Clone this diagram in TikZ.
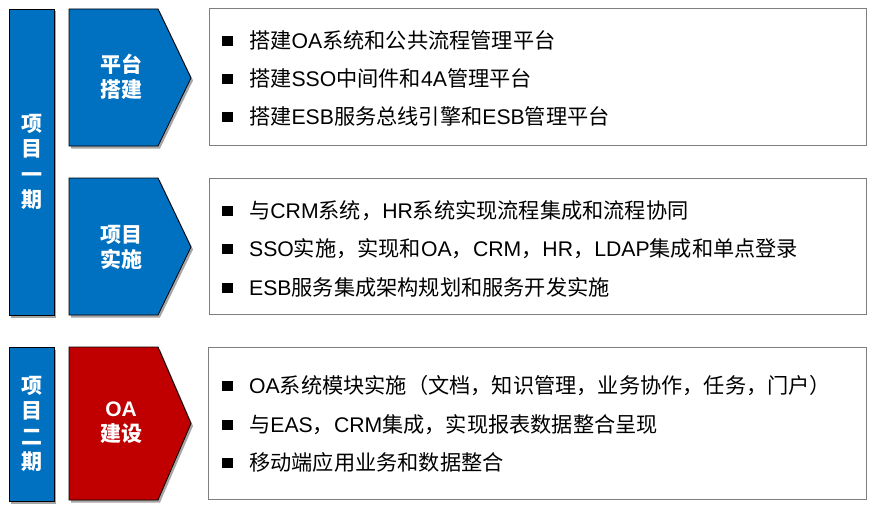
\documentclass[tikz,border=0pt]{standalone}
\usepackage{fontspec}
\setmainfont{Noto Sans CJK SC}
\newfontfamily\ltnfont{Liberation Sans}
\newcommand\ltn[1]{{\ltnfont #1}}
\usetikzlibrary{shadows}
\definecolor{pblue}{HTML}{0070C0}
\definecolor{pred}{HTML}{C00000}
\definecolor{boxgray}{HTML}{7F7F7F}
\tikzset{
  shd/.style={drop shadow={shadow xshift=2pt,shadow yshift=-2.5pt,opacity=0.35,fill=black}},
  phasebar/.style={shd,draw=black,line width=0.8pt,fill=pblue,minimum width=45pt,inner sep=0pt,
    text=white,font=\fontsize{21}{25.5}\selectfont\bfseries,align=center},
  chev/.style={shd,draw=black,line width=0.8pt},
  chevtext/.style={text=white,font=\fontsize{21}{25}\selectfont\bfseries,align=center,inner sep=0pt},
  itembox/.style={draw=boxgray,line width=1pt,fill=white},
  item/.style={anchor=base west,inner sep=0pt,font=\fontsize{21.2}{24}\selectfont}
}
\newcommand\bul{\raisebox{2.5pt}{\rule{11pt}{10pt}}\hspace{16pt}}
\begin{document}
\begin{tikzpicture}[x=1pt,y=-1pt]
\useasboundingbox (0,0) rectangle (874,508);
% left phase bars
\node[phasebar,minimum height=306pt] (p1) at (31.5,162) {项\\目\\一\\期};
\node[phasebar,minimum height=154pt] (p2) at (31.5,424) {项\\目\\二\\期};
% chevrons
\draw[chev,fill=pblue] (69,9) -- (158,9) -- (191,78) -- (158,146) -- (69,146) -- cycle;
\draw[chev,fill=pblue] (69,178) -- (158,178) -- (191,247) -- (158,315) -- (69,315) -- cycle;
\draw[chev,fill=pred] (69,347) -- (158,347) -- (191,423.5) -- (158,500) -- (69,500) -- cycle;
\node[chevtext] (c1) at (121,77) {平台\\搭建};
\node[chevtext] (c2) at (121,247) {项目\\实施};
\node[chevtext] (c3) at (121,423) {\ltn{OA}\\建设};
% item boxes
\draw[itembox] (209,9) rectangle (866,145);
\draw[itembox] (209,178) rectangle (866,314);
\draw[itembox] (208,347) rectangle (866,499);
% items
\node[item] (a1) at (222,48.5) {\bul 搭建\ltn{OA}系统和公共流程管理平台};
\node[item] (a2) at (222,86.5) {\bul 搭建\ltn{SSO}中间件和\ltn{4A}管理平台};
\node[item] (a3) at (222,124.5) {\bul 搭建\ltn{ESB}服务总线引擎和\ltn{ESB}管理平台};
\node[item] (b1) at (222,218.5) {\bul 与\ltn{CRM}系统，\ltn{HR}系统实现流程集成和流程协同};
\node[item] (b2) at (222,256.5) {\bul \ltn{SSO}实施，实现和\ltn{OA}，\ltn{CRM}，\ltn{HR}，\ltn{LDAP}集成和单点登录};
\node[item] (b3) at (222,295.5) {\bul \ltn{ESB}服务集成架构规划和服务开发实施};
\node[item] (d1) at (222,393.5) {\bul \ltn{OA}系统模块实施（文档，知识管理，业务协作，任务，门户）};
\node[item] (d2) at (222,432.5) {\bul 与\ltn{EAS}，\ltn{CRM}集成，实现报表数据整合呈现};
\node[item] (d3) at (222,470.5) {\bul 移动端应用业务和数据整合};
\end{tikzpicture}
\end{document}
